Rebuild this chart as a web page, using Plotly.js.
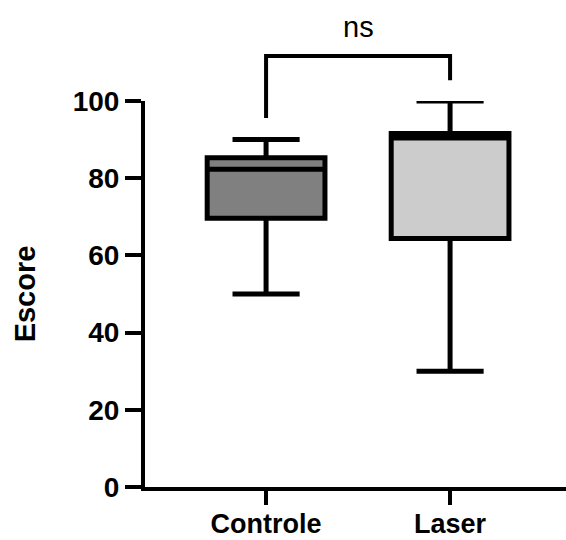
<!DOCTYPE html>
<html>
<head>
<meta charset="utf-8">
<script src="https://cdn.plot.ly/plotly-3.0.1.min.js"></script>
<style>html,body{margin:0;padding:0;background:#fff;}#chart{width:566px;height:540px;}</style>
</head>
<body>
<div id="chart"></div>
<script>
// Data
const categories = ['Controle', 'Laser'];
const lowerFence = [50, 30];
const q1Values = [69.6, 64.4];
const medianValues = [82.3, 90.4];
const q3Values = [85.3, 91.6];
const upperFence = [90, 100];
const fillColors = ['#808080', '#cccccc'];
const yTickValues = [0, 20, 40, 60, 80, 100];
const significanceLabel = 'ns';

const traces = categories.map((c, i) => ({
  type: 'box',
  name: c,
  x: [c],
  q1: [q1Values[i]],
  median: [medianValues[i]],
  q3: [q3Values[i]],
  lowerfence: [lowerFence[i]],
  upperfence: [upperFence[i]],
  fillcolor: fillColors[i],
  line: {color: '#000000', width: 5},
  width: 0.64,
  whiskerwidth: 0.57,
  boxpoints: false,
  hoverinfo: 'skip',
  showlegend: false
}));

const font = {family: '"Liberation Sans", Arial, sans-serif', color: '#000'};

const layout = {
  width: 566, height: 540,
  margin: {l: 145, r: 0, t: 101, b: 53},
  paper_bgcolor: '#fff', plot_bgcolor: '#fff',
  boxmode: 'overlay',
  showlegend: false,
  font: font,
  xaxis: {
    type: 'category',
    categoryorder: 'array', categoryarray: categories,
    range: [-0.658, 1.63],
    showline: true, linecolor: '#000', linewidth: 4,
    ticks: 'outside', ticklen: 14, tickwidth: 4, tickcolor: '#000',
    ticklabelstandoff: -4,
    showgrid: false, zeroline: false,
    tickfont: {family: font.family, size: 27, color: '#000', weight: 'bold'},
    fixedrange: true
  },
  yaxis: {
    range: [0, 100],
    tickvals: yTickValues,
    showline: true, linecolor: '#000', linewidth: 4,
    ticks: 'outside', ticklen: 16, tickwidth: 4, tickcolor: '#000',
    showgrid: false, zeroline: false,
    tickfont: {family: font.family, size: 28, color: '#000', weight: 'bold'},
    title: {text: 'Escore', font: {family: font.family, size: 29, color: '#000', weight: 'bold'}, standoff: 30},
    automargin: false,
    fixedrange: true
  },
  shapes: [
    {type: 'path', xref: 'x', yref: 'paper',
     path: 'M 0,0.956 L 0,1.1166 L 1,1.1166 L 1,1.054',
     line: {color: '#000', width: 4}}
  ],
  annotations: [
    {xref: 'x', yref: 'paper', x: 0.5, y: 1.145, yanchor: 'bottom', xanchor: 'center',
     text: significanceLabel, showarrow: false,
     font: {family: font.family, size: 29, color: '#000'}}
  ]
};

Plotly.newPlot('chart', traces, layout, {displayModeBar: false, staticPlot: true});
</script>
</body>
</html>
